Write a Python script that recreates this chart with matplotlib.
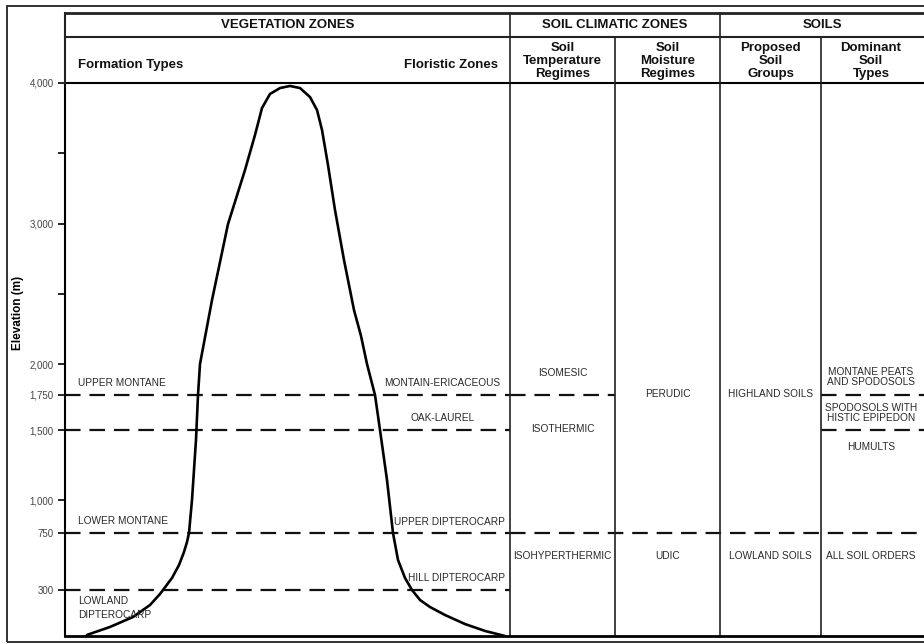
import numpy as np
import matplotlib
matplotlib.use("Agg")
import matplotlib.pyplot as plt
from matplotlib.patches import Rectangle

# ---------------------------------------------------------------------------
# data
# ---------------------------------------------------------------------------
# elevation ticks (m)
major_ticks = [300, 750, 1000, 1500, 1750, 2000, 3000, 4000]
tick_labels = ["300", "750", "1,000", "1,500", "1,750", "2,000", "3,000", "4,000"]
minor_ticks = [2500, 3500]

# mountain outline: horizontal offset inside the table, elevation (m)
mtn_x = [22, 45, 68, 85, 95, 98, 107, 114, 119, 122, 124, 127, 131, 133, 135, 147, 163,
         180, 190, 197, 205, 215, 225, 235, 245, 252, 257, 263, 270, 279, 289,
         296, 302, 310, 315, 322, 328, 333, 340, 347, 355, 365, 380, 400, 420, 440]
mtn_elev = [7, 59, 124, 202, 274, 300, 395, 497, 600, 679, 750, 1000, 1430, 1750, 2000, 2455, 2996,
            3381, 3630, 3822, 3922, 3964, 3979, 3964, 3900, 3808, 3666, 3416, 3096, 2740, 2384,
            2200, 2000, 1750, 1500, 1143, 750, 537, 395, 300, 235, 189, 137, 78, 33, 0]

# zone boundaries (m)
veg_bounds = [1750, 1500, 750, 300]
formation_types = ["UPPER MONTANE", "LOWER MONTANE", "LOWLAND\nDIPTEROCARP"]
formation_elev = [1847, 841, 183]
floristic_zones = ["MONTAIN-ERICACEOUS", "OAK-LAUREL", "UPPER DIPTEROCARP", "HILL DIPTEROCARP"]
floristic_elev = [1847, 1586, 833, 395]

temp_regimes = ["ISOMESIC", "ISOTHERMIC", "ISOHYPERTHERMIC"]
temp_elev = [1927, 1507, 568]
moisture_regimes = ["PERUDIC", "UDIC"]
moisture_elev = [1758, 568]
soil_groups = ["HIGHLAND SOILS", "LOWLAND SOILS"]
soil_groups_elev = [1758, 568]
soil_types = ["MONTANE PEATS\nAND SPODOSOLS", "SPODOSOLS WITH\nHISTIC EPIPEDON", "HUMULTS", "ALL SOIL ORDERS"]
soil_types_elev = [1895, 1621, 1379, 568]

# ---------------------------------------------------------------------------
# layout (pixel offsets from the table's left edge)
# ---------------------------------------------------------------------------
W, H = 924, 644
X0, XR = 65, 927          # table left / right edge in px
COLS = [445, 550, 655, 756]   # column dividers
TOTAL_W = XR - X0
col_mid = [(550 + 445) / 2, (655 + 550) / 2, (756 + 655) / 2, (856 + 756) / 2]

# piecewise elevation -> drawing position (the original axis is not linear)
ELEV_KNOTS = [0, 300, 750, 1000, 1500, 1750, 2000, 4000]
POS_KNOTS = [0, 46, 103, 136, 206, 241, 272, 553]


def fwd(e):
    return np.interp(e, ELEV_KNOTS, POS_KNOTS)


def inv(p):
    return np.interp(p, POS_KNOTS, ELEV_KNOTS)


BOLD = ["Liberation Sans", "DejaVu Sans"]
NARROW = ["Liberation Sans", "DejaVu Sans"]
TXT = "#2a2a2a"

fig = plt.figure(figsize=(W / 100, H / 100), dpi=100)
fig.patch.set_facecolor("white")

# outer frame
fig.patches.append(Rectangle((7 / W, 2 / H), 1.0, 636 / H, transform=fig.transFigure,
                             fill=False, lw=1.3, ec="#222"))

# ---------------------------------------------------------------------------
# main body
# ---------------------------------------------------------------------------
ax = fig.add_axes([X0 / W, 8 / H, TOTAL_W / W, 553 / H])
ax.set_yscale("function", functions=(fwd, inv))
ax.set_xlim(0, TOTAL_W)
ax.set_ylim(0, 4000)

ax.plot(mtn_x, mtn_elev, color="black", lw=1.9, solid_capstyle="round",
        solid_joinstyle="round", zorder=3)

dash = dict(color="#111", lw=1.6, dashes=(7, 4))
for e in veg_bounds:
    ax.plot([0, COLS[0]], [e, e], **dash)
# 1750 line through temperature column and dominant soil types
ax.plot([COLS[0], COLS[1]], [1750, 1750], **dash)
ax.plot([COLS[3], TOTAL_W], [1750, 1750], **dash)
ax.plot([COLS[3], TOTAL_W], [1500, 1500], **dash)
ax.plot([COLS[0], TOTAL_W], [750, 750], **dash)

for c in COLS:
    ax.axvline(c, color="#222", lw=1.2)

ax.spines["right"].set_visible(False)
ax.spines["top"].set_linewidth(1.5)
ax.spines["left"].set_linewidth(1.5)
ax.spines["bottom"].set_linewidth(2.0)
ax.set_xticks([])
ax.set_yticks(major_ticks)
ax.set_yticklabels(tick_labels, family=NARROW, fontsize=7, color="#444")
ax.set_yticks(minor_ticks, minor=True)
ax.tick_params(axis="y", which="both", direction="out", length=5, width=1.2, pad=3)
ax.set_ylabel("Elevation (m)", family=BOLD, fontweight="bold", fontsize=8.5)
ax.yaxis.set_label_coords(-(X0 - 24) / TOTAL_W, (636 - 313) / 553)

lab = dict(family=NARROW, fontsize=7.3, color=TXT, va="center")
for t, e in zip(formation_types, formation_elev):
    ax.text(13, e, t, ha="left", linespacing=1.5, **lab)
floristic_x = [435, 378, 440, 440]
floristic_ha = ["right", "center", "right", "right"]
for t, e, x, ha in zip(floristic_zones, floristic_elev, floristic_x, floristic_ha):
    ax.text(x, e, t, ha=ha, **lab)

for t, e in zip(temp_regimes, temp_elev):
    ax.text(col_mid[0], e, t, ha="center", **lab)
for t, e in zip(moisture_regimes, moisture_elev):
    ax.text(col_mid[1], e, t, ha="center", **lab)
for t, e in zip(soil_groups, soil_groups_elev):
    ax.text(col_mid[2], e, t, ha="center", **lab)
for t, e in zip(soil_types, soil_types_elev):
    ax.text(col_mid[3], e, t, ha="center", linespacing=1.0, **lab)

# ---------------------------------------------------------------------------
# header rows
# ---------------------------------------------------------------------------
hx = fig.add_axes([X0 / W, (H - 83) / H, TOTAL_W / W, 70 / H])
hx.set_xlim(0, TOTAL_W)
hx.set_ylim(70, 0)
hx.axis("off")
hx.plot([0, TOTAL_W], [0, 0], color="#222", lw=2.0, clip_on=False)
hx.plot([0, TOTAL_W], [24, 24], color="#222", lw=1.5, clip_on=False)
hx.plot([0, 0], [0, 70], color="#222", lw=1.5, clip_on=False)
for c in [COLS[0], COLS[2]]:
    hx.plot([c, c], [0, 70], color="#222", lw=1.2, clip_on=False)
for c in [COLS[1], COLS[3]]:
    hx.plot([c, c], [24, 70], color="#222", lw=1.2, clip_on=False)

hdr = dict(family=BOLD, fontweight="bold", fontsize=9.5, color="#111", va="center")
hx.text(COLS[0] / 2, 12, "VEGETATION ZONES", ha="center", **hdr)
hx.text(COLS[1], 12, "SOIL CLIMATIC ZONES", ha="center", **hdr)
hx.text((COLS[2] + TOTAL_W - 3) / 2, 12, "SOILS", ha="center", **hdr)
hx.text(13, 52, "Formation Types", ha="left", **hdr)
hx.text(433, 52, "Floristic Zones", ha="right", **hdr)
col_titles = ["Soil\nTemperature\nRegimes", "Soil\nMoisture\nRegimes",
              "Proposed\nSoil\nGroups", "Dominant\nSoil\nTypes"]
for t, xm in zip(col_titles, col_mid):
    hx.text(xm, 48, t, ha="center", linespacing=1.08, **hdr)

fig.savefig("out.png", dpi=100)
